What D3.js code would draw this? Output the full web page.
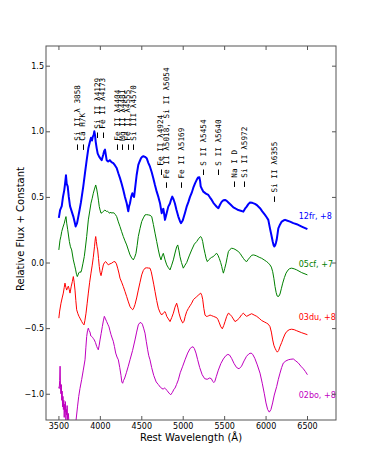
<!DOCTYPE html>
<html><head><meta charset="utf-8">
<script src="https://cdn.jsdelivr.net/npm/d3@7"></script>
<style>body{margin:0;background:#fff}</style>
</head><body>
<svg id="chart" width="374" height="467"></svg>
<script>
// ---------- data ----------
const xTicks = [3500, 4000, 4500, 5000, 5500, 6000, 6500];
const yTicks = [-1.0, -0.5, 0.0, 0.5, 1.0, 1.5];

const sn12frWave = [3505,3520,3540,3555,3570,3580,3591,3600,3612,3625,3640,3660,3680,3695,3708,3725,3740,3755,3772,3800,3820,3841,3861,3880,3893,3905,3915,3925,3933,3942,3950,3962,3974,3993,4010,4022,4040,4052,4062,4072,4082,4100,4120,4140,4162,4183,4203,4223,4243,4263,4283,4303,4324,4343,4353,4363,4378,4392,4403,4413,4428,4444,4464,4480,4497,4510,4525,4545,4565,4585,4605,4625,4645,4665,4686,4706,4726,4746,4756,4766,4776,4786,4800,4826,4846,4860,4874,4890,4906,4925,4947,4967,4979,5000,5028,5050,5068,5088,5108,5128,5150,5169,5185,5201,5210,5217,5232,5249,5280,5309,5330,5350,5370,5390,5410,5430,5450,5471,5491,5511,5531,5551,5580,5611,5640,5671,5700,5732,5752,5772,5792,5812,5840,5872,5900,5933,5960,5993,6013,6033,6053,6070,6086,6098,6106,6115,6125,6134,6145,6154,6175,6195,6215,6235,6265,6295,6335,6376,6436,6505];
const sn12frFlux = [0.34,0.40,0.43,0.50,0.55,0.60,0.665,0.60,0.58,0.50,0.43,0.39,0.35,0.31,0.275,0.30,0.35,0.40,0.46,0.58,0.68,0.78,0.87,0.92,0.95,0.93,0.96,0.97,1.0,0.97,0.92,0.87,0.83,0.805,0.79,0.78,0.82,0.85,0.86,0.82,0.78,0.77,0.78,0.765,0.757,0.74,0.72,0.68,0.643,0.60,0.553,0.50,0.452,0.39,0.43,0.45,0.50,0.528,0.51,0.50,0.58,0.667,0.744,0.77,0.795,0.805,0.81,0.805,0.795,0.76,0.73,0.69,0.643,0.59,0.54,0.50,0.452,0.376,0.40,0.41,0.37,0.325,0.36,0.426,0.45,0.48,0.502,0.48,0.45,0.40,0.35,0.315,0.30,0.32,0.38,0.43,0.46,0.50,0.53,0.57,0.605,0.63,0.648,0.65,0.62,0.58,0.56,0.54,0.525,0.515,0.495,0.477,0.455,0.44,0.425,0.414,0.44,0.464,0.475,0.477,0.47,0.457,0.44,0.42,0.41,0.40,0.395,0.388,0.41,0.426,0.445,0.457,0.455,0.447,0.435,0.414,0.39,0.363,0.345,0.325,0.26,0.21,0.16,0.13,0.122,0.13,0.15,0.173,0.22,0.26,0.29,0.312,0.32,0.325,0.318,0.312,0.30,0.292,0.274,0.254];

const sn05cfWave = [3505,3519,3530,3540,3555,3571,3582,3591,3600,3612,3632,3645,3660,3680,3695,3708,3718,3728,3745,3760,3770,3780,3795,3812,3825,3841,3861,3880,3893,3908,3921,3935,3950,3962,3974,3984,3993,4003,4014,4028,4042,4052,4062,4078,4094,4110,4122,4132,4142,4158,4174,4188,4203,4223,4243,4263,4283,4303,4324,4344,4364,4384,4404,4420,4436,4450,4464,4485,4505,4525,4545,4565,4585,4605,4626,4646,4666,4686,4706,4722,4738,4752,4766,4787,4807,4827,4847,4867,4887,4910,4927,4940,4955,4967,4985,5007,5028,5048,5078,5108,5140,5169,5195,5217,5230,5241,5255,5269,5283,5297,5313,5330,5350,5370,5390,5410,5426,5442,5458,5471,5481,5491,5507,5523,5537,5551,5571,5591,5617,5643,5668,5692,5712,5732,5752,5772,5792,5812,5832,5852,5872,5893,5923,5953,5983,6013,6035,6053,6070,6086,6100,6114,6128,6140,6150,6162,6174,6190,6207,6227,6247,6270,6292,6315,6345,6376,6436,6505];
const sn05cfFlux = [0.096,0.17,0.20,0.236,0.27,0.30,0.33,0.35,0.30,0.25,0.16,0.12,0.096,0.02,-0.02,-0.056,-0.09,-0.107,-0.08,-0.069,-0.075,-0.056,-0.01,0.045,0.11,0.198,0.325,0.40,0.452,0.49,0.528,0.56,0.591,0.56,0.515,0.47,0.426,0.40,0.376,0.38,0.39,0.396,0.40,0.39,0.39,0.38,0.376,0.385,0.376,0.38,0.376,0.365,0.35,0.31,0.274,0.235,0.198,0.165,0.134,0.095,0.058,0.035,0.02,0.04,0.07,0.13,0.198,0.26,0.312,0.34,0.363,0.365,0.363,0.36,0.35,0.29,0.224,0.16,0.096,0.05,0.02,0.05,0.07,0.02,-0.018,-0.04,-0.056,-0.02,0.02,0.08,0.12,0.134,0.09,0.045,0.0,-0.043,-0.02,0.0,0.05,0.096,0.14,0.16,0.185,0.198,0.185,0.16,0.11,0.07,0.03,0.007,0.02,0.03,0.04,0.045,0.06,0.07,0.055,0.03,0.0,-0.03,-0.06,-0.081,-0.045,-0.005,0.04,0.083,0.10,0.109,0.105,0.096,0.085,0.07,0.05,0.032,0.015,0.007,0.025,0.04,0.055,0.058,0.055,0.05,0.04,0.032,0.02,0.007,-0.005,-0.018,-0.035,-0.07,-0.12,-0.183,-0.23,-0.255,-0.26,-0.255,-0.24,-0.20,-0.157,-0.115,-0.081,-0.058,-0.046,-0.043,-0.048,-0.056,-0.077,-0.094];

const sn03duWave = [3505,3515,3531,3545,3559,3570,3579,3590,3600,3610,3620,3630,3640,3655,3668,3680,3690,3700,3710,3720,3735,3748,3765,3781,3795,3809,3820,3833,3847,3861,3877,3893,3908,3921,3935,3945,3950,3958,3966,3974,3984,3993,4003,4014,4028,4042,4056,4070,4086,4102,4122,4143,4163,4183,4200,4215,4230,4243,4263,4283,4303,4324,4344,4364,4380,4396,4410,4424,4444,4464,4485,4505,4525,4545,4565,4585,4605,4620,4633,4650,4666,4686,4706,4726,4746,4766,4786,4797,4807,4827,4847,4867,4887,4907,4927,4940,4955,4975,4999,5015,5030,5048,5068,5088,5108,5128,5150,5169,5195,5217,5230,5241,5255,5269,5283,5297,5315,5330,5350,5370,5390,5410,5426,5442,5460,5478,5495,5511,5531,5551,5571,5591,5611,5631,5656,5683,5708,5732,5752,5772,5800,5832,5862,5893,5923,5953,5983,6013,6033,6053,6070,6086,6100,6114,6128,6142,6158,6174,6194,6214,6235,6255,6285,6315,6346,6376,6436,6505];
const sn03duFlux = [-0.424,-0.37,-0.31,-0.27,-0.233,-0.19,-0.157,-0.19,-0.21,-0.19,-0.18,-0.205,-0.233,-0.18,-0.145,-0.107,-0.15,-0.21,-0.29,-0.36,-0.39,-0.41,-0.43,-0.45,-0.465,-0.475,-0.44,-0.386,-0.31,-0.233,-0.15,-0.081,-0.02,0.04,0.12,0.18,0.198,0.16,0.12,0.096,0.03,-0.03,-0.075,-0.1,-0.06,-0.018,0.0,0.007,-0.005,-0.018,-0.01,-0.005,0.005,0.007,-0.01,-0.043,-0.08,-0.119,-0.15,-0.183,-0.22,-0.26,-0.30,-0.336,-0.35,-0.36,-0.345,-0.32,-0.27,-0.21,-0.15,-0.094,-0.06,-0.043,-0.04,-0.042,-0.043,-0.07,-0.11,-0.165,-0.221,-0.29,-0.348,-0.38,-0.40,-0.385,-0.374,-0.39,-0.41,-0.43,-0.45,-0.42,-0.386,-0.34,-0.31,-0.34,-0.386,-0.43,-0.46,-0.45,-0.41,-0.374,-0.35,-0.33,-0.31,-0.284,-0.27,-0.26,-0.245,-0.233,-0.25,-0.28,-0.35,-0.40,-0.41,-0.41,-0.405,-0.40,-0.405,-0.41,-0.415,-0.42,-0.435,-0.46,-0.49,-0.505,-0.48,-0.45,-0.41,-0.386,-0.395,-0.41,-0.43,-0.45,-0.44,-0.424,-0.40,-0.386,-0.40,-0.41,-0.40,-0.39,-0.40,-0.41,-0.425,-0.442,-0.452,-0.462,-0.47,-0.488,-0.53,-0.59,-0.63,-0.653,-0.67,-0.683,-0.67,-0.64,-0.61,-0.576,-0.545,-0.526,-0.512,-0.508,-0.512,-0.52,-0.535,-0.55];

const sn02boWave = [3505,3510,3515,3520,3525,3530,3535,3540,3545,3550,3555,3560,3565,3570,3575,3580,3585,3590,3595,3600,3605,3612,3620,3630,3645,3665,3690,3713,3730,3745,3760,3781,3800,3821,3831,3841,3851,3861,3871,3881,3891,3901,3912,3922,3933,3947,3962,3972,3981,3992,4002,4016,4030,4042,4054,4068,4082,4096,4110,4122,4135,4148,4162,4176,4191,4207,4223,4240,4255,4265,4275,4285,4300,4320,4343,4364,4395,4424,4444,4464,4485,4500,4513,4528,4545,4560,4577,4590,4605,4625,4650,4680,4706,4730,4750,4766,4780,4790,4810,4835,4855,4875,4895,4907,4925,4947,4970,5000,5028,5060,5090,5110,5125,5140,5160,5180,5205,5235,5265,5295,5325,5345,5362,5375,5388,5405,5430,5460,5490,5520,5545,5565,5590,5620,5650,5680,5710,5740,5770,5800,5825,5845,5870,5900,5933,5960,5985,6005,6025,6045,6065,6085,6105,6134,6154,6174,6194,6214,6245,6275,6305,6335,6365,6396,6426,6456,6480,6505];
const sn02boFlux = [-0.947,-0.96,-0.90,-0.79,-0.95,-1.0,-0.93,-1.05,-0.98,-1.10,-1.02,-1.12,-1.05,-1.18,-1.08,-1.14,-1.06,-1.20,-1.12,-1.16,-1.09,-1.22,-1.15,-1.25,-1.3,-1.32,-1.3,-1.2,-1.10,-1.02,-0.96,-0.89,-0.82,-0.741,-0.65,-0.564,-0.52,-0.50,-0.52,-0.53,-0.56,-0.564,-0.57,-0.58,-0.59,-0.61,-0.64,-0.655,-0.665,-0.63,-0.59,-0.54,-0.488,-0.445,-0.41,-0.43,-0.45,-0.47,-0.49,-0.52,-0.55,-0.575,-0.60,-0.64,-0.69,-0.72,-0.741,-0.80,-0.86,-0.91,-0.92,-0.90,-0.88,-0.84,-0.79,-0.741,-0.67,-0.59,-0.53,-0.475,-0.457,-0.46,-0.47,-0.50,-0.538,-0.60,-0.665,-0.71,-0.741,-0.80,-0.86,-0.91,-0.93,-0.95,-0.96,-0.965,-0.955,-0.96,-0.975,-0.995,-1.008,-0.99,-0.965,-0.957,-0.93,-0.894,-0.84,-0.79,-0.741,-0.69,-0.655,-0.645,-0.642,-0.655,-0.69,-0.74,-0.80,-0.855,-0.885,-0.89,-0.88,-0.885,-0.905,-0.915,-0.905,-0.87,-0.82,-0.77,-0.735,-0.71,-0.70,-0.705,-0.73,-0.77,-0.80,-0.81,-0.79,-0.75,-0.715,-0.695,-0.69,-0.70,-0.73,-0.78,-0.843,-0.92,-1.0,-1.07,-1.12,-1.14,-1.12,-1.07,-1.01,-0.945,-0.89,-0.843,-0.80,-0.766,-0.75,-0.741,-0.737,-0.735,-0.75,-0.766,-0.79,-0.81,-0.83,-0.855];

const seriesNames = ["12fr, +8", "05cf, +7", "03du, +8", "02bo, +8"];
const labelWave = [6400, 6400, 6400, 6400];
const labelFlux = [0.355, -0.01, -0.414, -1.008];

const lineText = ["Si II λ 3858","Ca H/K","Si II λ4129","Fe II λ4173","Fe II λ4404","Mg II λ4481","Fe II λ4555","Si III λ4570","Fe II λ4924","Fe II λ5018, Si II λ5054","Fe II λ5169","S II λ5454","S II λ5640","Na I D","Si II λ5972","Si II λ6355"];
const lineWave = [3724,3791,3969,4032,4207,4267,4334,4400,4732,4804,4979,5249,5430,5619,5740,6102];
const lineFlux = [0.858,0.858,0.949,0.949,0.858,0.858,0.858,0.858,0.667,0.569,0.569,0.667,0.667,0.576,0.576,0.462];

// ---------- chart ----------
const L = 46, R = 336, T = 46, B = 420;
const svg = d3.select("#chart");
const x = d3.scaleLinear().domain([3350, 6850]).range([L, R]);
const y = d3.scaleLinear().domain([-1.2, 1.65]).range([B, T]);

svg.append("defs").append("clipPath").attr("id", "clip")
  .append("rect").attr("x", L).attr("y", T).attr("width", R - L).attr("height", B - T);

const series = [
  {wave: sn12frWave, flux: sn12frFlux, color: "#0000ff", w: 2},
  {wave: sn05cfWave, flux: sn05cfFlux, color: "#008000", w: 1},
  {wave: sn03duWave, flux: sn03duFlux, color: "#ff0000", w: 1},
  {wave: sn02boWave, flux: sn02boFlux, color: "#bf00bf", w: 1}
];

const line = d3.line().x(d => x(d[0])).y(d => y(d[1]));
const g = svg.append("g").attr("clip-path", "url(#clip)");
series.forEach(s => {
  g.append("path").datum(s.wave.map((w, i) => [w, s.flux[i]]))
    .attr("d", line).attr("fill", "none")
    .attr("stroke", s.color).attr("stroke-width", s.w)
    .attr("stroke-linejoin", "round");
});

// series labels
series.forEach((s, i) => {
  svg.append("text").attr("x", x(labelWave[i])).attr("y", y(labelFlux[i]))
    .attr("dy", "0.35em").attr("fill", s.color)
    .attr("font-family", "DejaVu Sans").attr("font-size", 8)
    .text(seriesNames[i]);
});

// line identifications: short marker + rotated label
lineText.forEach((t, i) => {
  const cx = Math.round(x(lineWave[i])) + 0.5, by = y(lineFlux[i]);
  svg.append("line").attr("x1", cx).attr("x2", cx).attr("y1", by).attr("y2", by - 5.5)
    .attr("stroke", "#000").attr("stroke-width", 1);
  svg.append("text")
    .attr("transform", `translate(${x(lineWave[i])},${by - 9.3}) rotate(-90)`)
    .attr("dy", "0.35em")
    .attr("font-family", "DejaVu Sans Mono").attr("font-size", 7.7)
    .attr("fill", "#000")
    .text(t);
});

// axes
const fmtY = d => (d < 0 ? "\u2212" : "") + Math.abs(d).toFixed(1);
const axStyle = sel => {
  sel.select(".domain").remove();
  sel.selectAll(".tick line").attr("stroke", "#555");
  sel.selectAll("text").attr("font-family", "DejaVu Sans").attr("font-size", 8).attr("fill", "#000");
};
svg.append("g").attr("transform", `translate(0,${B})`)
  .call(d3.axisBottom(x).tickValues(xTicks).tickSize(-4).tickPadding(3).tickFormat(d3.format("d"))).call(axStyle);
svg.append("g").attr("transform", `translate(0,${T})`)
  .call(d3.axisTop(x).tickValues(xTicks).tickSize(-4).tickFormat("")).call(axStyle);
svg.append("g").attr("transform", `translate(${L},0)`)
  .call(d3.axisLeft(y).tickValues(yTicks).tickSize(-4).tickPadding(2).tickFormat(fmtY)).call(axStyle);
svg.append("g").attr("transform", `translate(${R},0)`)
  .call(d3.axisRight(y).tickValues(yTicks).tickSize(-4).tickFormat("")).call(axStyle);

svg.append("rect").attr("x", L).attr("y", T).attr("width", R - L).attr("height", B - T)
  .attr("fill", "none").attr("stroke", "#555").attr("stroke-width", 1);

// axis titles
svg.append("text").attr("x", (L + R) / 2).attr("y", 441)
  .attr("text-anchor", "middle").attr("font-family", "DejaVu Sans").attr("font-size", 10)
  .text("Rest Wavelength (Å)");
svg.append("text").attr("transform", `translate(20,229) rotate(-90)`)
  .attr("text-anchor", "middle").attr("dy", "0.35em")
  .attr("font-family", "DejaVu Sans").attr("font-size", 10)
  .text("Relative Flux + Constant");
</script>
</body></html>
